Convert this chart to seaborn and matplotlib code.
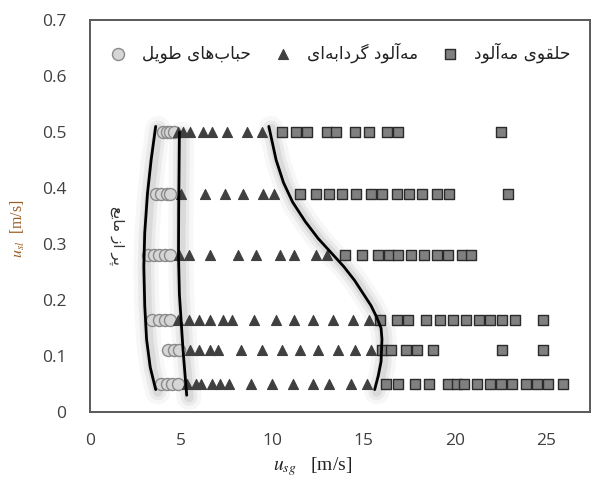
import numpy as np
import pandas as pd
import seaborn as sns
import matplotlib.pyplot as plt

# Superficial liquid velocity rows (m/s)
rows_usl = [0.05, 0.11, 0.165, 0.28, 0.39, 0.50]

# Elongated bubbles (circles): gas velocities per row
bubble_usg = [
    [3.9, 4.2, 4.5, 4.8],
    [4.3, 4.6, 4.9],
    [3.4, 3.8, 4.1, 4.4],
    [3.2, 3.5, 3.8, 4.1, 4.4],
    [3.6, 3.9, 4.2, 4.4],
    [4.0, 4.2, 4.4, 4.6],
]

# Churn flow (triangles)
churn_usg = [
    [5.3, 5.8, 6.1, 6.7, 7.1, 7.6, 8.8, 10.0, 11.1, 12.2, 13.1, 14.3, 15.2],
    [5.5, 6.0, 6.6, 7.0, 8.3, 9.4, 10.5, 11.5, 12.5, 13.6, 14.5, 15.4],
    [4.8, 5.4, 6.0, 6.6, 7.3, 7.8, 9.0, 10.2, 11.2, 12.2, 13.3, 14.4, 15.3],
    [4.9, 5.4, 6.6, 8.1, 9.1, 10.4, 11.2, 12.4, 13.0],
    [5.0, 6.3, 7.4, 8.4, 9.5, 10.1],
    [4.8, 5.1, 5.5, 6.2, 6.7, 7.5, 8.6, 9.4],
]

# Annular mist (squares)
annular_usg = [
    [16.2, 16.9, 17.8, 18.6, 19.6, 20.1, 20.5, 21.2, 21.9, 22.5, 23.1, 23.9, 24.5, 25.1, 25.9],
    [16.0, 16.5, 17.3, 17.9, 18.8, 22.6, 24.8],
    [15.9, 16.8, 17.4, 18.4, 19.2, 19.9, 20.6, 21.3, 21.9, 22.6, 23.3, 24.8],
    [14.0, 14.9, 15.8, 16.4, 16.9, 17.6, 18.3, 19.0, 19.6, 20.4, 20.9],
    [11.5, 12.4, 13.1, 13.8, 14.6, 15.4, 16.0, 16.8, 17.5, 18.2, 19.0, 19.7, 22.9],
    [10.5, 11.3, 11.9, 13.0, 13.5, 14.5, 15.3, 16.3, 16.9, 22.5],
]

# Hand-drawn regime boundaries
left_edge_x = [3.6, 3.35, 3.15, 3.0, 2.95, 3.0, 3.1, 3.3, 3.6]
left_edge_y = [0.51, 0.45, 0.39, 0.32, 0.26, 0.19, 0.13, 0.08, 0.04]
mid_edge_x = [4.9, 4.88, 4.86, 4.85, 4.9, 5.0, 5.1, 5.2, 5.3]
mid_edge_y = [0.50, 0.43, 0.36, 0.28, 0.21, 0.16, 0.11, 0.07, 0.03]
right_edge_x = [9.8, 10.2, 10.6, 11.1, 11.8, 12.5, 13.2, 13.9, 14.5, 15.0, 15.4, 15.7, 15.95, 16.0, 15.95, 15.8, 15.6]
right_edge_y = [0.51, 0.45, 0.41, 0.375, 0.34, 0.31, 0.285, 0.26, 0.235, 0.21, 0.19, 0.17, 0.15, 0.13, 0.09, 0.065, 0.04]

labels_fa = ["حباب‌های طویل", "مه‌آلود گردابه‌ای", "حلقوی مه‌آلود"]
side_note = "پر از مایع"

# --- minimal Persian shaping (matplotlib has no bidi / joining) ---
FORMS = {  # iso, fin, ini, med
    "ح": "ﺡﺢﺣﺤ", "ب": "ﺏﺐﺑﺒ", "ه": "ﻩﻪﻫﻬ", "ی": "ﯼﯽﯾﯿ", "ط": "ﻁﻂﻃﻄ",
    "ل": "ﻝﻞﻟﻠ", "م": "ﻡﻢﻣﻤ", "گ": "ﮒﮓﮔﮕ", "ق": "ﻕﻖﻗﻘ", "پ": "ﭖﭗﭘﭙ",
    "ع": "ﻉﻊﻋﻌ",
    "ا": "ﺍﺎ", "آ": "ﺁﺂ", "و": "ﻭﻮ", "د": "ﺩﺪ", "ر": "ﺭﺮ", "ز": "ﺯﺰ",
}


def shape(text):
    out = []
    for i, ch in enumerate(text):
        if ch not in FORMS:
            if ch != "\u200c":
                out.append(ch)
            continue
        prev = text[i - 1] if i > 0 else ""
        nxt = text[i + 1] if i + 1 < len(text) else ""
        join_prev = prev in FORMS and len(FORMS[prev]) == 4
        join_next = len(FORMS[ch]) == 4 and nxt in FORMS
        f = FORMS[ch]
        if join_prev and join_next:
            out.append(f[3])
        elif join_prev:
            out.append(f[1])
        elif join_next:
            out.append(f[2])
        else:
            out.append(f[0])
    return "".join(out)[::-1]


def to_frame(groups):
    xs, ys = [], []
    for y, row in zip(rows_usl, groups):
        xs += row
        ys += [y] * len(row)
    return pd.DataFrame({"usg": xs, "usl": ys})


bubbles = to_frame(bubble_usg)
churn = to_frame(churn_usg)
annular = to_frame(annular_usg)

sns.set_style("white")
plt.rcParams["font.family"] = ["Open Sans", "DejaVu Sans"]
plt.rcParams["mathtext.fontset"] = "stix"

fig = plt.figure(figsize=(5.98, 4.88), dpi=100)
ax = fig.add_axes([0.1505, 0.1557, 0.8361, 0.8033])

# soft glow under the boundary lines
for bx, by in [(left_edge_x, left_edge_y), (mid_edge_x, mid_edge_y), (right_edge_x, right_edge_y)]:
    for lw, a in [(18, 0.06), (12, 0.10), (7, 0.15)]:
        ax.plot(np.array(bx) + 0.12, np.array(by) - 0.004, color="#7f7f7f", lw=lw,
                alpha=a, solid_capstyle="round", zorder=1)

sns.scatterplot(data=bubbles, x="usg", y="usl", marker="o", s=75, color="#d6d6d6",
                edgecolor="#8a8a8a", linewidth=1, label=shape(labels_fa[0]), ax=ax, zorder=2)
sns.scatterplot(data=churn, x="usg", y="usl", marker="^", s=52, color="#404040",
                edgecolor="#404040", linewidth=0.8, label=shape(labels_fa[1]), ax=ax, zorder=3)
sns.scatterplot(data=annular, x="usg", y="usl", marker="s", s=60, color="#808080",
                edgecolor="#2b2b2b", linewidth=1, label=shape(labels_fa[2]), ax=ax, zorder=3)

for bx, by in [(left_edge_x, left_edge_y), (mid_edge_x, mid_edge_y), (right_edge_x, right_edge_y)]:
    ax.plot(bx, by, color="black", lw=2, solid_capstyle="round", zorder=4)

ax.text(1.45, 0.315, shape(side_note), rotation=-90, ha="center", va="center",
        fontsize=11, color="#333333", family="DejaVu Sans")

ax.set_xlim(0, 27.4)
ax.set_ylim(0, 0.7)
ax.set_xticks([0, 5, 10, 15, 20, 25])
ax.set_yticks(np.arange(0, 0.71, 0.1))
ax.set_yticklabels(["0", "0.1", "0.2", "0.3", "0.4", "0.5", "0.6", "0.7"])
ax.tick_params(axis="both", direction="out", width=1.3, color="#595959",
               labelsize=12.5, labelcolor="#404040")
ax.tick_params(axis="y", length=7, pad=10)
ax.tick_params(axis="x", length=7, pad=8)
for sp in ax.spines.values():
    sp.set_color("#595959")
    sp.set_linewidth(1.4)

ax.set_xlabel(r"$u_{sg}$   [m/s]", fontsize=14, color="#222222", family="Liberation Serif")
ax.set_ylabel(r"$u_{sl}$  [m/s]", fontsize=11.5, color="#9a5f28", family="Liberation Serif")
ax.xaxis.set_label_coords(0.445, -0.11)
ax.yaxis.set_label_coords(-0.126, 0.467)

leg = ax.legend(loc="center", bbox_to_anchor=(0.492, 0.916), ncol=3, frameon=False,
                fontsize=12.2, handletextpad=0.4, columnspacing=0.9, borderaxespad=0)
for t in leg.get_texts():
    t.set_family("DejaVu Sans")
    t.set_color("#222222")

fig.savefig("out.png", dpi=100)
